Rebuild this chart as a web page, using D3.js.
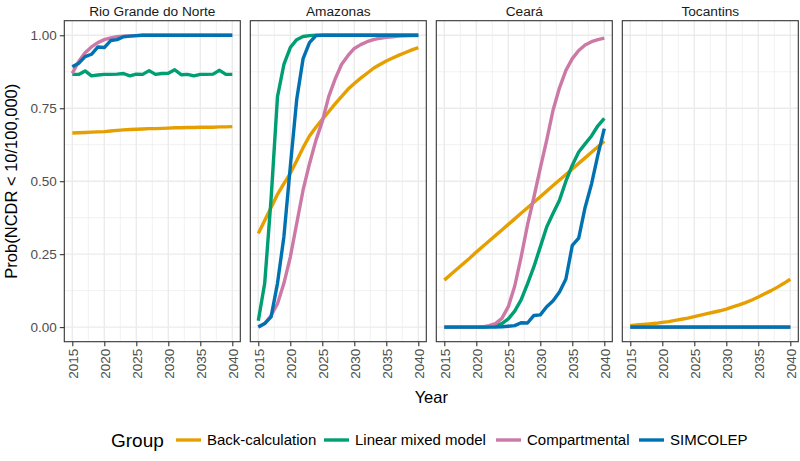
<!DOCTYPE html>
<html><head><meta charset="utf-8">
<script src="https://cdn.jsdelivr.net/npm/d3@7"></script>
<style>body{margin:0;background:#fff;} text{font-family:"Liberation Sans",Arial,Helvetica,sans-serif;}</style>
</head><body><svg id="chart" width="800" height="461"></svg>
<script>
const years = d3.range(2015, 2041);
const states = ["Rio Grande do Norte", "Amazonas", "Ceará", "Tocantins"];
const groups = ["Back-calculation", "Linear mixed model", "Compartmental", "SIMCOLEP"];
const colors = ["#E69F00", "#009E73", "#CC79A7", "#0072B2"];
const yTicks = [0, 0.25, 0.5, 0.75, 1];
const yTickLabels = ["0.00", "0.25", "0.50", "0.75", "1.00"];
const xTicks = [2015, 2020, 2025, 2030, 2035, 2040];

// Rio Grande do Norte
const rgnBack = [0.665,0.666,0.667,0.668,0.669,0.670,0.672,0.674,0.676,0.677,0.678,0.679,0.680,0.680,0.681,0.682,0.683,0.683,0.684,0.684,0.685,0.685,0.685,0.686,0.686,0.687];
const rgnLmm = [0.866,0.866,0.878,0.861,0.864,0.866,0.866,0.867,0.869,0.861,0.867,0.866,0.879,0.866,0.869,0.870,0.882,0.865,0.866,0.861,0.866,0.866,0.867,0.880,0.866,0.866];
const rgnComp = [0.870,0.910,0.940,0.960,0.975,0.985,0.991,0.995,0.997,0.998,0.999,1,1,1,1,1,1,1,1,1,1,1,1,1,1,1];
const rgnSim = [0.892,0.904,0.927,0.935,0.960,0.958,0.982,0.985,0.995,0.997,0.999,1,1,1,1,1,1,1,1,1,1,1,1,1,1,1];
// Amazonas
const amaBack = [0.321,0.365,0.410,0.455,0.492,0.527,0.570,0.615,0.655,0.685,0.712,0.738,0.765,0.790,0.815,0.835,0.853,0.870,0.887,0.900,0.912,0.922,0.932,0.941,0.950,0.958];
const amaLmm = [0.022,0.150,0.440,0.790,0.900,0.958,0.985,0.996,0.999,1,1,1,1,1,1,1,1,1,1,1,1,1,1,1,1,1];
const amaComp = [0.000,0.012,0.040,0.080,0.150,0.240,0.355,0.470,0.560,0.640,0.705,0.790,0.850,0.900,0.930,0.955,0.968,0.978,0.985,0.990,0.993,0.995,0.997,0.998,0.999,0.999];
const amaSim = [0.000,0.012,0.035,0.150,0.310,0.550,0.780,0.920,0.975,0.999,1,1,1,1,1,1,1,1,1,1,1,1,1,1,1,1];
// Ceará
const ceBack = [0.161,0.180,0.199,0.218,0.237,0.257,0.276,0.295,0.314,0.333,0.352,0.371,0.390,0.409,0.428,0.447,0.466,0.485,0.504,0.523,0.542,0.561,0.580,0.599,0.618,0.637];
const ceLmm = [0,0,0,0,0,0,0,0.002,0.005,0.012,0.028,0.055,0.093,0.148,0.207,0.275,0.343,0.390,0.435,0.500,0.555,0.600,0.628,0.655,0.690,0.715];
const ceComp = [0,0,0,0,0,0,0.001,0.005,0.012,0.030,0.070,0.140,0.240,0.350,0.445,0.545,0.641,0.744,0.820,0.880,0.920,0.948,0.967,0.978,0.985,0.990];
const ceSim = [0,0,0,0,0,0,0,0,0,0.001,0.003,0.005,0.015,0.014,0.040,0.042,0.070,0.090,0.120,0.165,0.280,0.305,0.410,0.490,0.590,0.680];
// Tocantins
const toBack = [0.005,0.007,0.009,0.011,0.013,0.016,0.019,0.023,0.027,0.031,0.036,0.041,0.046,0.051,0.056,0.062,0.069,0.076,0.084,0.093,0.103,0.114,0.125,0.137,0.150,0.164];
const toLmm = [0,0,0,0,0,0,0,0,0,0,0,0,0,0,0,0,0,0,0,0,0,0,0,0,0,0];
const toComp = [0,0,0,0,0,0,0,0,0,0,0,0,0,0,0,0,0,0,0,0,0,0,0,0,0,0];
const toSim = [0,0,0,0,0,0,0,0,0,0,0,0,0,0,0,0,0,0,0,0,0,0,0,0,0,0];

const seriesByState = [
  [rgnBack, rgnLmm, rgnComp, rgnSim],
  [amaBack, amaLmm, amaComp, amaSim],
  [ceBack, ceLmm, ceComp, ceSim],
  [toBack, toLmm, toComp, toSim]
];

const svg = d3.select("#chart");
const panelW = 176, panelH = 321, panelTop = 20.7, firstLeft = 64.3, step = 186;
const x = d3.scaleLinear().domain([2013.75, 2041.25]).range([0, panelW]);
const y = d3.scaleLinear().domain([-0.05, 1.05]).range([panelH, 0]);
const line = d3.line().x((d, i) => x(years[i])).y(d => y(d)).curve(d3.curveLinear);

const minorX = [2017.5, 2022.5, 2027.5, 2032.5, 2037.5];
const minorY = [0.125, 0.375, 0.625, 0.875];

states.forEach((st, si) => {
  const g = svg.append("g").attr("transform", `translate(${firstLeft + si * step},${panelTop})`);
  g.append("rect").attr("width", panelW).attr("height", panelH).attr("fill", "#fff");
  g.selectAll(".mx").data(minorX).enter().append("line")
    .attr("x1", d => x(d)).attr("x2", d => x(d)).attr("y1", 0).attr("y2", panelH)
    .attr("stroke", "#EBEBEB").attr("stroke-width", 0.7);
  g.selectAll(".my").data(minorY).enter().append("line")
    .attr("y1", d => y(d)).attr("y2", d => y(d)).attr("x1", 0).attr("x2", panelW)
    .attr("stroke", "#EBEBEB").attr("stroke-width", 0.7);
  g.selectAll(".Mx").data(xTicks).enter().append("line")
    .attr("x1", d => x(d)).attr("x2", d => x(d)).attr("y1", 0).attr("y2", panelH)
    .attr("stroke", "#EBEBEB").attr("stroke-width", 1.4);
  g.selectAll(".My").data(yTicks).enter().append("line")
    .attr("y1", d => y(d)).attr("y2", d => y(d)).attr("x1", 0).attr("x2", panelW)
    .attr("stroke", "#EBEBEB").attr("stroke-width", 1.4);
  seriesByState[si].forEach((vals, gi) => {
    g.append("path").datum(vals).attr("d", line)
      .attr("fill", "none").attr("stroke", colors[gi]).attr("stroke-width", 3.4)
      .attr("stroke-linejoin", "round");
  });
  g.append("rect").attr("width", panelW).attr("height", panelH)
    .attr("fill", "none").attr("stroke", "#333333").attr("stroke-width", 1.1);
  svg.append("text").attr("x", firstLeft + si * step + panelW / 2).attr("y", 16)
    .attr("text-anchor", "middle").attr("font-size", 13.7).attr("fill", "#1A1A1A").text(st);
  const xa = d3.axisBottom(x).tickValues(xTicks).tickSize(4.5).tickFormat(d3.format("d"));
  const xg = svg.append("g").attr("transform", `translate(${firstLeft + si * step},${panelTop + panelH})`).call(xa);
  xg.select(".domain").remove();
  xg.selectAll(".tick line").attr("stroke", "#333333").attr("stroke-width", 1.1);
  xg.selectAll(".tick text").attr("font-size", 13.5).attr("fill", "#4D4D4D")
    .attr("font-family", '"Liberation Sans",Arial,sans-serif')
    .attr("transform", "rotate(-90)").attr("text-anchor", "end")
    .attr("x", -7).attr("y", 0).attr("dy", "0.35em");
});

const ya = d3.axisLeft(y).tickValues(yTicks).tickSize(4.5).tickFormat((d, i) => yTickLabels[i]);
const yg = svg.append("g").attr("transform", `translate(${firstLeft},${panelTop})`).call(ya);
yg.select(".domain").remove();
yg.selectAll(".tick line").attr("stroke", "#333333").attr("stroke-width", 1.1);
yg.selectAll(".tick text").attr("font-size", 13.5).attr("fill", "#4D4D4D")
  .attr("font-family", '"Liberation Sans",Arial,sans-serif').attr("x", -7.5);

svg.append("text").attr("transform", `translate(17,${panelTop + panelH / 2}) rotate(-90)`)
  .attr("text-anchor", "middle").attr("font-size", 16.5).attr("fill", "#000").text("Prob(NCDR < 10/100,000)");
svg.append("text").attr("x", (firstLeft + firstLeft + 3 * step + panelW) / 2).attr("y", 403)
  .attr("text-anchor", "middle").attr("font-size", 16.5).attr("fill", "#000").text("Year");

const lg = svg.append("g");
const legY = 440;
lg.append("text").attr("x", 111).attr("y", legY).attr("dy", "0.35em").attr("font-size", 19).text("Group");
const keyX = [176, 324, 496, 639];
groups.forEach((gname, gi) => {
  lg.append("line").attr("x1", keyX[gi]).attr("x2", keyX[gi] + 25).attr("y1", legY).attr("y2", legY)
    .attr("stroke", colors[gi]).attr("stroke-width", 3.4);
  lg.append("text").attr("x", keyX[gi] + 31).attr("y", legY).attr("dy", "0.35em")
    .attr("font-size", 15).attr("fill", "#000").text(gname);
});
</script></body></html>
